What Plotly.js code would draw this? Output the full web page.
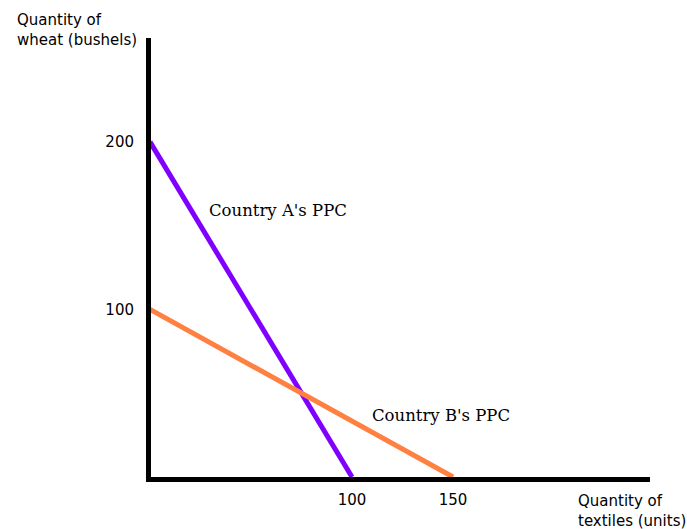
<!DOCTYPE html>
<html><head><meta charset="utf-8">
<script src="https://cdn.plot.ly/plotly-3.0.1.min.js"></script>
<style>html,body{margin:0;padding:0;background:#fff}#chart{width:687px;height:529px}</style>
</head><body><div id="chart"></div>
<script>
const countryA_textiles = [0, 100];
const countryA_wheat = [200, 0];
const countryB_textiles = [0, 150];
const countryB_wheat = [100, 0];
const xTickVals = [100, 150];
const yTickVals = [100, 200];
const labelA = "Country A's PPC";
const labelB = "Country B's PPC";
const yTitle = "Quantity of<br>wheat (bushels)";
const xTitle = "Quantity of<br>textiles (units)";

const traces = [
  {x: countryA_textiles, y: countryA_wheat, mode: 'lines', line: {color: '#8000ff', width: 5}, hoverinfo: 'skip', cliponaxis: false},
  {x: countryB_textiles, y: countryB_wheat, mode: 'lines', line: {color: '#ff8040', width: 5}, hoverinfo: 'skip', cliponaxis: false}
];
const layout = {
  width: 687, height: 529,
  margin: {l: 151, r: 37, t: 38, b: 52},
  showlegend: false,
  paper_bgcolor: '#fff', plot_bgcolor: '#fff',
  font: {family: 'DejaVu Sans', size: 15, color: '#000'},
  xaxis: {range: [0.5, 247.5], showgrid: false, zeroline: false, showline: true, linewidth: 5, linecolor: '#000',
          tickvals: xTickVals, ticks: '', ticklabelstandoff: 5, tickfont: {family: 'DejaVu Sans', size: 15, color: '#000'}},
  yaxis: {range: [0, 262], showgrid: false, zeroline: false, showline: true, linewidth: 5, linecolor: '#000',
          tickvals: yTickVals, ticks: '', ticklabelstandoff: 9, tickfont: {family: 'DejaVu Sans', size: 15, color: '#000'}},
  annotations: [
    {x: 63.4, y: 159, xref: 'x', yref: 'y', text: labelA, showarrow: false, font: {family: 'DejaVu Serif', size: 16.5, color: '#000'}},
    {x: 144, y: 37, xref: 'x', yref: 'y', text: labelB, showarrow: false, font: {family: 'DejaVu Serif', size: 16.5, color: '#000'}},
    {x: -0.272, y: 1.065, xref: 'paper', yref: 'paper', xanchor: 'left', yanchor: 'top', align: 'left', text: yTitle, showarrow: false, font: {family: 'DejaVu Sans', size: 15, color: '#000'}},
    {x: 0.851, y: -0.03, xref: 'paper', yref: 'paper', xanchor: 'left', yanchor: 'top', align: 'left', text: xTitle, showarrow: false, font: {family: 'DejaVu Sans', size: 15, color: '#000'}}
  ]
};
Plotly.newPlot('chart', traces, layout, {displayModeBar: false, staticPlot: true});
</script></body></html>
